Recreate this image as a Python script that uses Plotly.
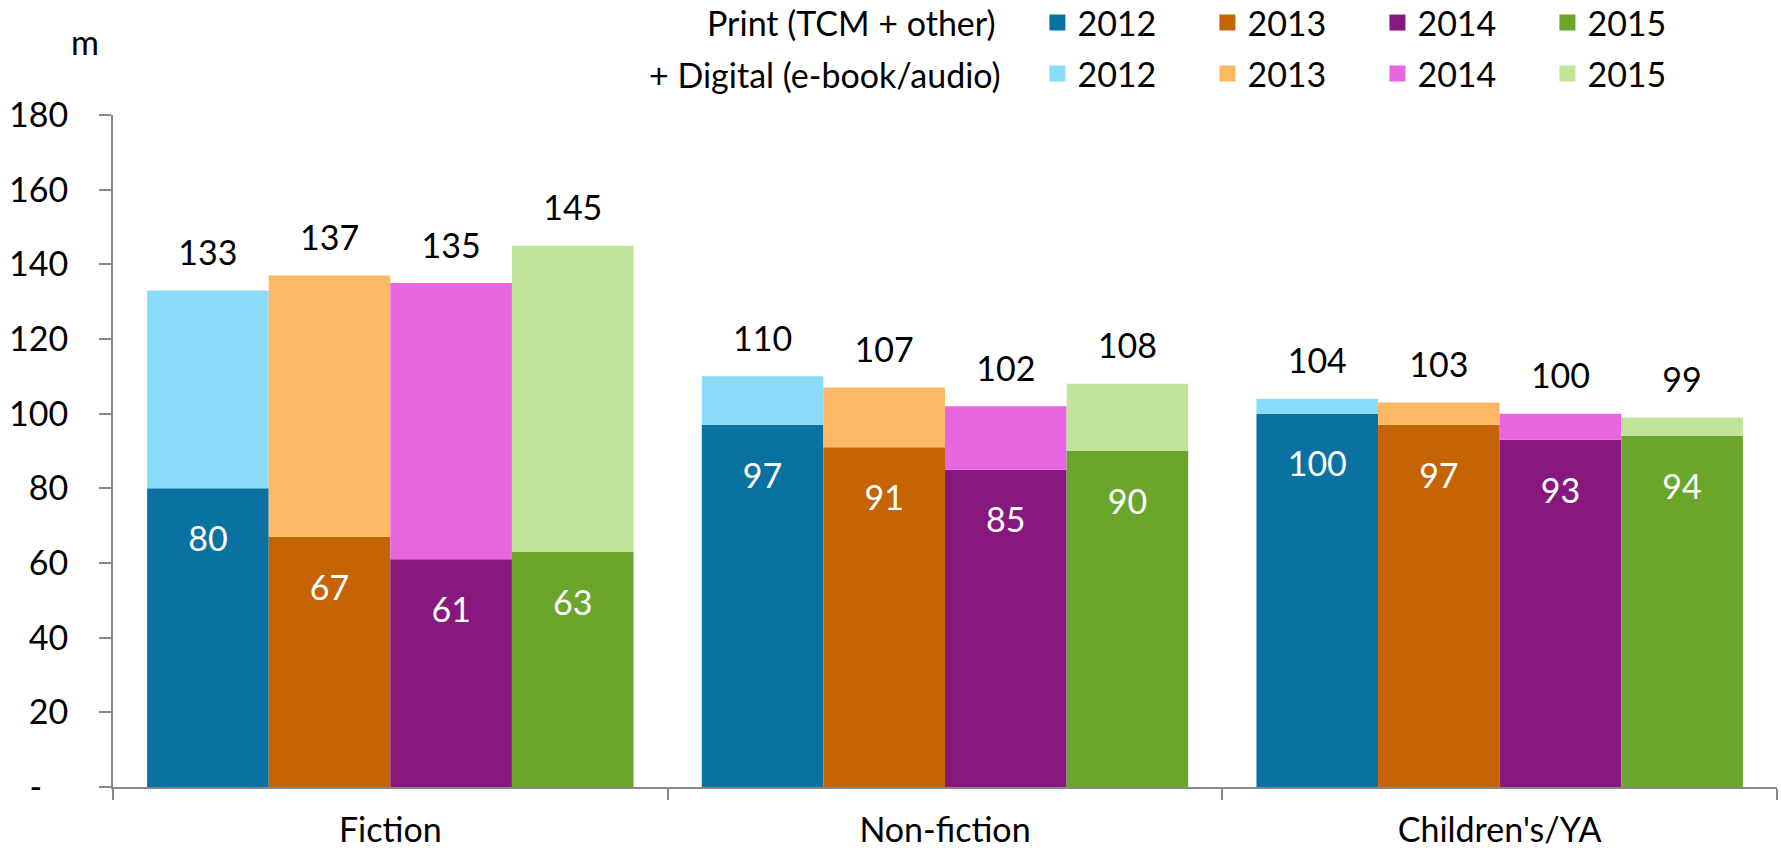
import plotly.graph_objects as go

CATEGORIES = ["Fiction", "Non-fiction", "Children's/YA"]
YEARS = ["2012", "2013", "2014", "2015"]

# print (TCM + other), by year, per category
PRINT = {
    "2012": [80, 97, 100],
    "2013": [67, 91, 97],
    "2014": [61, 85, 93],
    "2015": [63, 90, 94],
}
# print + digital totals (labels above the bars)
TOTAL = {
    "2012": [133, 110, 104],
    "2013": [137, 107, 103],
    "2014": [135, 102, 100],
    "2015": [145, 108, 99],
}

Y_TICKS = [0, 20, 40, 60, 80, 100, 120, 140, 160, 180]
Y_TICKTEXT = ["-\u00a0\u00a0\u00a0", "20", "40", "60", "80", "100", "120", "140", "160", "180"]

PRINT_COLORS = {"2012": "#0a72a0", "2013": "#c46404", "2014": "#86187e", "2015": "#6aa62c"}
DIGITAL_COLORS = {"2012": "#8adcf8", "2013": "#fdb866", "2014": "#e866e0", "2015": "#c2e49a"}

FONT = "Lato, 'Open Sans', sans-serif"
FS = 34


def big(v):
    return f"<span style='font-size:{FS}px'>{v}</span>"


fig = go.Figure()

for yr in YEARS:
    digital = [t - p for t, p in zip(TOTAL[yr], PRINT[yr])]
    # spacer line (small base font) pushes the label down from the bar top
    fig.add_trace(go.Bar(
        x=CATEGORIES, y=PRINT[yr], offsetgroup=yr,
        marker=dict(color=PRINT_COLORS[yr], line=dict(width=0)),
        text=["\u00a0<br>" + big(v) for v in PRINT[yr]],
        textposition="inside", insidetextanchor="end",
        textfont=dict(family=FONT, size=26, color="white"),
        showlegend=False, hoverinfo="skip",
    ))
    fig.add_trace(go.Bar(
        x=CATEGORIES, y=digital, base=PRINT[yr], offsetgroup=yr,
        marker=dict(color=DIGITAL_COLORS[yr], line=dict(width=0)),
        text=[big(v) + "<br>\u00a0" for v in TOTAL[yr]],
        textposition="outside",
        textfont=dict(family=FONT, size=15, color="black"),
        cliponaxis=False,
        showlegend=False, hoverinfo="skip",
    ))

# legend entries (square swatches)
for yr in YEARS:
    fig.add_trace(go.Scatter(
        x=[None], y=[None], mode="markers", name=yr, legend="legend",
        marker=dict(symbol="square", size=21, color=PRINT_COLORS[yr]),
    ))
for yr in YEARS:
    fig.add_trace(go.Scatter(
        x=[None], y=[None], mode="markers", name=yr, legend="legend2",
        marker=dict(symbol="square", size=21, color=DIGITAL_COLORS[yr]),
    ))

legend_common = dict(
    orientation="h", xanchor="left", yanchor="middle",
    xref="container", yref="container",
    x=0.5825, entrywidth=125, entrywidthmode="pixels",
    font=dict(family=FONT, size=FS, color="black"),
    bgcolor="rgba(0,0,0,0)", borderwidth=0, itemclick=False,
    tracegroupgap=0,
)

fig.update_layout(
    width=1781, height=850,
    margin=dict(l=113, r=4, t=115, b=63, autoexpand=False),
    paper_bgcolor="white", plot_bgcolor="white",
    barmode="group", bargap=0.123, bargroupgap=0,
    font=dict(family=FONT, size=FS, color="black"),
    legend=dict(y=0.973, **legend_common),
    legend2=dict(y=0.913, **legend_common),
    showlegend=True,
    annotations=[
        dict(text="Print (TCM + other)", xref="paper", yref="paper",
             x=0.532, y=1.137, xanchor="right", yanchor="middle",
             showarrow=False, font=dict(family=FONT, size=FS)),
        dict(text="+ Digital (e-book/audio)", xref="paper", yref="paper",
             x=0.535, y=1.061, xanchor="right", yanchor="middle",
             showarrow=False, font=dict(family=FONT, size=FS)),
        dict(text="m", xref="paper", yref="paper",
             x=-0.017, y=1.11, xanchor="center", yanchor="middle",
             showarrow=False, font=dict(family=FONT, size=FS)),
    ],
)

fig.update_yaxes(
    range=[0, 180], tickvals=Y_TICKS, ticktext=Y_TICKTEXT,
    showgrid=False, zeroline=False, automargin=False,
    showline=True, linecolor="#888888", linewidth=2,
    ticks="outside", ticklen=12, tickwidth=2, tickcolor="#888888",
    ticklabelstandoff=24,
    tickfont=dict(family=FONT, size=FS, color="black"),
)
fig.update_xaxes(
    showgrid=False, zeroline=False, automargin=False,
    showline=True, linecolor="#888888", linewidth=2,
    ticks="outside", ticklen=11, tickwidth=2, tickcolor="#888888",
    tickson="boundaries", ticklabelstandoff=12,
    tickfont=dict(family=FONT, size=FS, color="black"),
)

# the page body has a default 8px margin; drop it so the figure fills the window
fig.write_html(
    "out.html",
    config={"displayModeBar": False},
    post_script="document.body.style.margin='0';",
)
